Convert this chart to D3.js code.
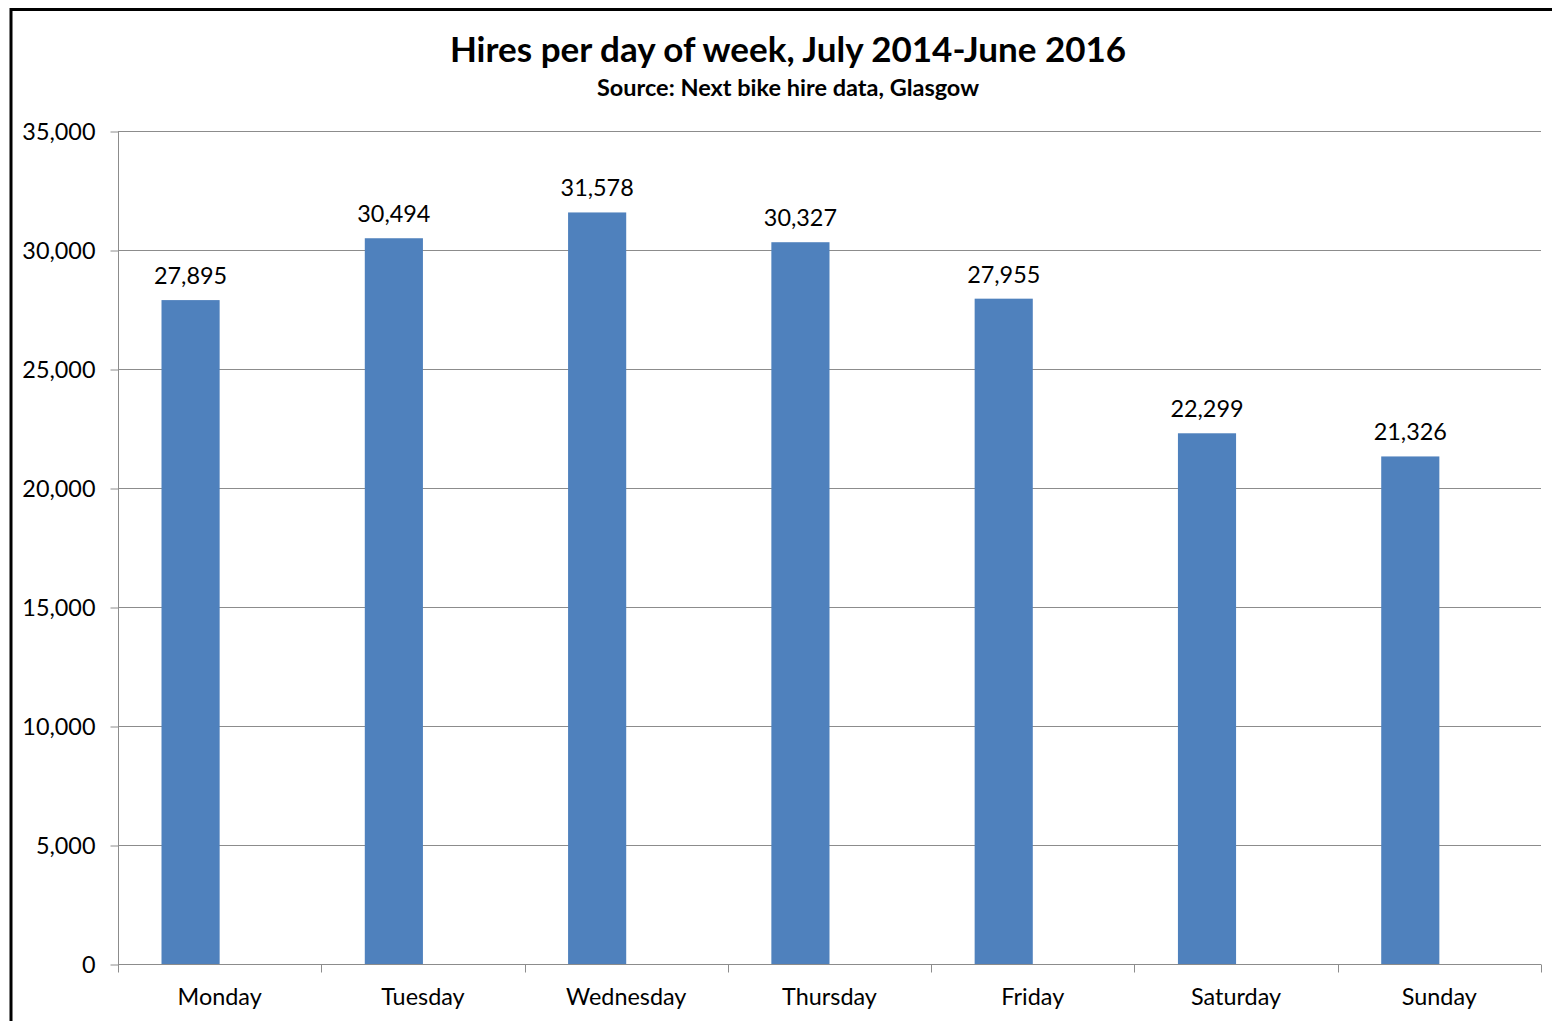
<!DOCTYPE html>
<html><head><meta charset="utf-8">
<script src="https://cdn.jsdelivr.net/npm/d3@7"></script>
<style>body{margin:0;background:#fff}svg{display:block}text{font-family:Lato,"Open Sans",sans-serif}</style>
</head><body>
<svg id="c" width="1552" height="1021"></svg>
<script>
const days = ["Monday","Tuesday","Wednesday","Thursday","Friday","Saturday","Sunday"];
const hires = [27895,30494,31578,30327,27955,22299,21326];
const yTicks = [0,5000,10000,15000,20000,25000,30000,35000];
const title = "Hires per day of week, July 2014-June 2016";
const subtitle = "Source: Next bike hire data, Glasgow";

const svg = d3.select("#c");
svg.append("rect").attr("x",0).attr("y",0).attr("width",1552).attr("height",1021).attr("fill","#fff");
svg.append("path").attr("d","M11,1030V9.5H1560")
  .attr("fill","none").attr("stroke","#000").attr("stroke-width",3);

const L=118,R=1541,T=131,B=964;
const x = d3.scaleBand().domain(days).range([L,R]).padding(0);
const y = d3.scaleLinear().domain([0,35000]).range([B,T]);
const fmt = d3.format(",");
const FS = 23.4;

// gridlines
svg.append("g").selectAll("line").data(yTicks.filter(d=>d>0)).join("line")
  .attr("x1",L).attr("x2",R).attr("y1",d=>y(d)+0.5).attr("y2",d=>y(d)+0.5)
  .attr("stroke","#8c8c8c").attr("stroke-width",1);

// bars
const bw = x.bandwidth()*0.286;
svg.append("g").selectAll("rect").data(days).join("rect")
  .attr("x",(d)=>x(d)+x.bandwidth()/2-bw)
  .attr("width",bw)
  .attr("y",(d,i)=>y(hires[i]))
  .attr("height",(d,i)=>B-y(hires[i]))
  .attr("fill","#4f81bd");

// data labels
svg.append("g").selectAll("text").data(days).join("text")
  .attr("x",d=>x(d)+x.bandwidth()/2-bw/2)
  .attr("y",(d,i)=>y(hires[i])-16)
  .attr("text-anchor","middle").attr("font-size",FS).attr("fill","#000")
  .text((d,i)=>fmt(hires[i]));

// y axis
const ya = d3.axisLeft(y).tickValues(yTicks).tickFormat(fmt).tickSize(8).tickPadding(14);
const gy = svg.append("g").attr("transform",`translate(${L+0.5},0.5)`).call(ya);
gy.select(".domain").attr("stroke","#8c8c8c").attr("d",`M0,${T}V${B}`);
gy.selectAll(".tick line").attr("stroke","#8c8c8c");
gy.selectAll(".tick text").attr("font-size",FS).attr("fill","#000").attr("font-family","Lato,sans-serif").attr("dy","0.35em").attr("x",-23);

// x axis
const xa = d3.axisBottom(x).tickSize(0).tickPadding(24);
const gx = svg.append("g").attr("transform",`translate(0,${B+0.5})`).call(xa);
gx.select(".domain").attr("stroke","#8c8c8c").attr("d",`M${L},0H${R}`);
gx.selectAll(".tick text").attr("font-size",FS).attr("fill","#000").attr("font-family","Lato,sans-serif");
const bounds = days.map(d=>x(d)).concat([R]);
gx.append("g").selectAll("line").data(bounds).join("line")
  .attr("x1",d=>Math.round(d)+0.5).attr("x2",d=>Math.round(d)+0.5).attr("y1",0).attr("y2",8)
  .attr("stroke","#8c8c8c");

// titles
svg.append("text").attr("x",788).attr("y",62).attr("text-anchor","middle")
  .attr("font-size",35).attr("font-weight","bold").attr("fill","#000").text(title);
svg.append("text").attr("x",788).attr("y",96).attr("text-anchor","middle")
  .attr("font-size",23.5).attr("font-weight","bold").attr("fill","#000").text(subtitle);
</script>
</body></html>
